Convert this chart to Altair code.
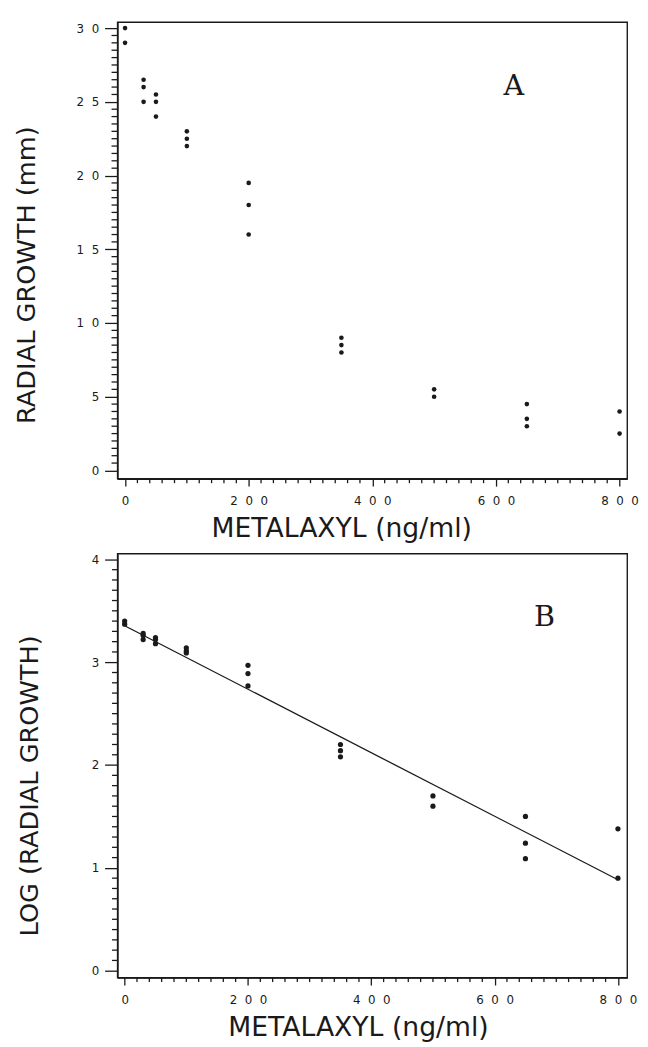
import altair as alt
import pandas as pd

# ---- data ----
dose = [0, 0, 30, 30, 30, 50, 50, 50, 100, 100, 100, 200, 200, 200,
        350, 350, 350, 500, 500, 650, 650, 650, 800, 800]
growth_mm = [30, 29, 26.5, 26, 25, 25.5, 25, 24, 23, 22.5, 22, 19.5, 18, 16,
             9, 8.5, 8, 5.5, 5, 4.5, 3.5, 3, 4, 2.5]
log_growth = [3.40, 3.37, 3.28, 3.26, 3.22, 3.24, 3.22, 3.18, 3.14, 3.11, 3.09,
              2.97, 2.89, 2.77, 2.20, 2.14, 2.08, 1.70, 1.60, 1.50, 1.24, 1.09,
              1.38, 0.90]
fit_dose = [0, 800]
fit_log = [3.355, 0.885]

label_a = ["A"]
label_a_dose = [629]
label_a_val = [25.45]
label_b = ["B"]
label_b_dose = [681]
label_b_val = [3.356]

x_major = [0, 200, 400, 600, 800]
x_minor = [v for v in range(0, 801, 20) if v % 200 != 0]
y_major_a = [0, 5, 10, 15, 20, 25, 30]
y_minor_a = [i * 0.5 for i in range(61) if i % 10 != 0]
y_major_b = [0, 1, 2, 3, 4]
y_minor_b = [round(i * 0.1, 1) for i in range(41) if i % 10 != 0]

df_a = pd.DataFrame({"dose": dose, "val": growth_mm})
df_b = pd.DataFrame({"dose": dose, "val": log_growth})
df_fit = pd.DataFrame({"dose": fit_dose, "val": fit_log})
ann_a = pd.DataFrame({"dose": label_a_dose, "val": label_a_val, "t": label_a})
ann_b = pd.DataFrame({"dose": label_b_dose, "val": label_b_val, "t": label_b})

INK = "#1a1a1a"
SP = "\u2007"
LAB = f"join(split(format(datum.value, 'd'), ''), '{SP}')"
HA = 463
HB = 430


def x_axis(title_x, title_y):
    return alt.Axis(
        values=x_major,
        title="METALAXYL (ng/ml)",
        tickSize=7.5,
        labelExpr=LAB,
        labelPadding=10,
        labelOverlap=False,
        labelFontSize=12,
        grid=False,
        titleX=title_x,
        titleY=title_y,
        titleAlign="center",
        titleBaseline="alphabetic",
        titleFontSize=27,
    )


def y_axis(title, values, title_x, title_y):
    return alt.Axis(
        values=values,
        title=title,
        tickSize=13,
        labelExpr=LAB,
        labelPadding=6,
        labelOverlap=False,
        labelFontSize=12,
        grid=False,
        titleAngle=270,
        titleX=title_x,
        titleY=title_y,
        titleAlign="center",
        titleBaseline="middle",
        titleFontSize=26,
    )


def build_panel(df, sx, sy, ax_x, ax_y, size, ann, h, ytick_len, y_minor, fit=None):
    X = alt.X("dose:Q", scale=sx, axis=ax_x, title="METALAXYL (ng/ml)")

    def Y():
        return alt.Y("val:Q", scale=sy, axis=ax_y, title=ax_y.title)

    layers = []
    if fit is not None:
        layers.append(alt.Chart(fit).mark_line(color=INK, strokeWidth=1.3).encode(x=X, y=Y()))
    layers.append(alt.Chart(df).mark_circle(size=size, color=INK, opacity=1).encode(x=X, y=Y()))
    layers.append(alt.Chart(pd.DataFrame({"dose": x_minor})).mark_rule(
        color=INK, strokeWidth=1.3).encode(x=X, y=alt.value(h), y2=alt.value(h + 4.5)))
    layers.append(alt.Chart(pd.DataFrame({"val": y_minor})).mark_rule(
        color=INK, strokeWidth=1.3).encode(y=Y(), x=alt.value(-ytick_len), x2=alt.value(0)))
    layers.append(alt.Chart(ann).mark_text(font="DejaVu Serif", fontSize=29, color=INK,
                                           align="center", baseline="alphabetic").encode(
        x=X, y=Y(), text="t:N"))
    return alt.layer(*layers).properties(width=517, height=h)


xa = alt.Scale(domain=[-12.3, 812.3], nice=False, zero=False)
ya = alt.Scale(domain=[-0.56, 30.4], nice=False, zero=False)
panel_a = build_panel(df_a, xa, ya, x_axis(227, 59),
                      y_axis("RADIAL GROWTH (mm)", y_major_a, -92, 256),
                      22, ann_a, HA, 6, y_minor_a)

xb = alt.Scale(domain=[-11.7, 815], nice=False, zero=False)
yb = alt.Scale(domain=[-0.067, 4.056], nice=False, zero=False)
panel_b = build_panel(df_b, xb, yb, x_axis(244, 59),
                      y_axis("LOG (RADIAL GROWTH)", y_major_b, -89, 235),
                      28, ann_b, HB, 5.5, y_minor_b, fit=df_fit)

chart = alt.vconcat(panel_a, panel_b, spacing=10).properties(
    padding={"left": 5, "top": 6, "right": 0, "bottom": 0},
    background="white",
).configure_view(
    stroke=INK, strokeWidth=1.4
).configure_axis(
    grid=False,
    domainColor=INK, domainWidth=1.5,
    tickColor=INK, tickWidth=1.3,
    labelFont="DejaVu Sans", labelFontSize=12, labelColor=INK,
    titleFont="DejaVu Sans", titleColor=INK, titleFontWeight="normal",
)

chart.save("out.html", embed_options={"renderer": "svg", "actions": False})
